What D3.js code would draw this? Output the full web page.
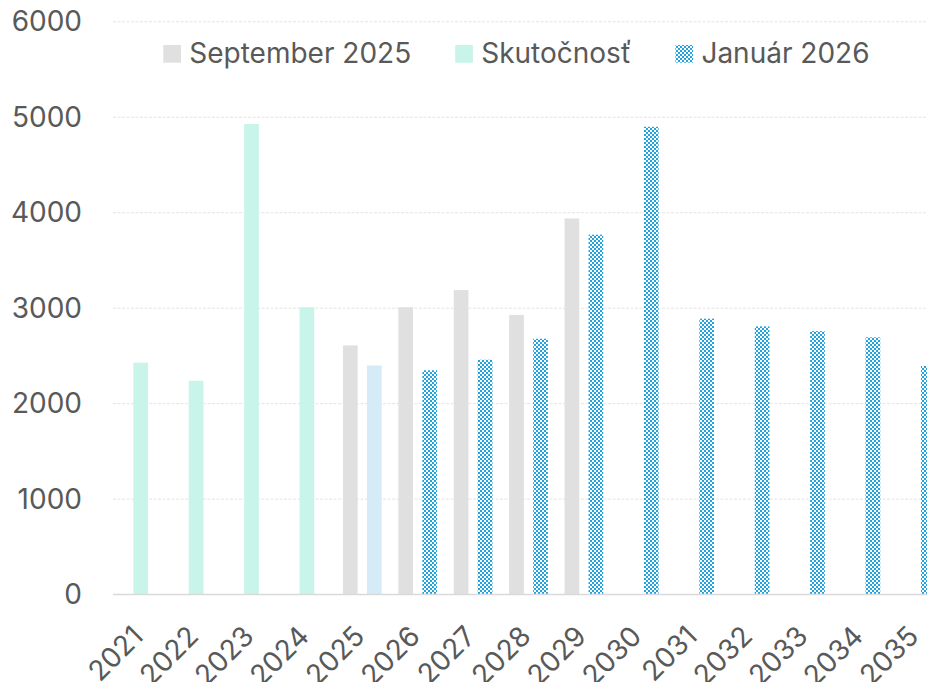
<!DOCTYPE html>
<html>
<head>
<meta charset="utf-8">
<script src="https://cdn.jsdelivr.net/npm/d3@7"></script>
<style>
  html, body { margin: 0; padding: 0; background: #ffffff; }
  svg { display: block; }
  text { font-family: Inter, "Open Sans", sans-serif; fill: #595959; }
</style>
</head>
<body>
<svg id="chart" width="927" height="682"></svg>
<script>
// Years on the category axis
const years = ["2021","2022","2023","2024","2025","2026","2027","2028","2029","2030","2031","2032","2033","2034","2035"];
// Series values (null = no bar)
const september2025 = [null, null, null, null, 2610, 3010, 3190, 2930, 3940, null, null, null, null, null, null];
const skutocnost    = [2430, 2240, 4930, 3010, null, null, null, null, null, null, null, null, null, null, null];
const januar2026    = [null, null, null, null, 2400, 2350, 2460, 2680, 3770, 4900, 2890, 2810, 2760, 2695, 2395];
// Year whose January value is shown as a plain light-blue bar
const januarSolidYears = ["2025"];
const yTicks = [0, 1000, 2000, 3000, 4000, 5000, 6000];
const legendLabels = ["September 2025", "Skutočnosť", "Január 2026"];

const svg = d3.select("#chart");
const plotLeft = 113, bandStep = 55.4;
const x = d3.scaleBand().domain(years).range([plotLeft, plotLeft + bandStep * years.length]).padding(0);
const y = d3.scaleLinear().domain([0, 6000]).range([594.6, 21.8]);
const barW = 14.7, seriesShift = 12;
const fontStack = "Inter, 'Open Sans', sans-serif";

// checkerboard fill for the January series
const defs = svg.append("defs");
const pat = defs.append("pattern").attr("id", "checker").attr("patternUnits", "userSpaceOnUse")
  .attr("width", 4).attr("height", 4);
pat.append("rect").attr("width", 4).attr("height", 4).attr("fill", "#22a2de");
pat.append("rect").attr("x", 0).attr("y", 0).attr("width", 2).attr("height", 2).attr("fill", "#ffffff");
pat.append("rect").attr("x", 2).attr("y", 2).attr("width", 2).attr("height", 2).attr("fill", "#ffffff");

// gridlines
svg.append("g").selectAll("line").data(yTicks.filter(d => d > 0)).join("line")
  .attr("x1", plotLeft).attr("x2", 927)
  .attr("y1", d => y(d)).attr("y2", d => y(d))
  .attr("stroke", "#e4e4e4").attr("stroke-width", 1).attr("stroke-dasharray", "3,1.5");

// y axis labels
const yAxis = d3.axisLeft(y).tickValues(yTicks).tickSize(0).tickPadding(0).tickFormat(d3.format("d"));
const yg = svg.append("g").attr("transform", "translate(82,0)").call(yAxis);
yg.select(".domain").remove();
yg.selectAll("text").attr("font-size", 28).attr("fill", "#595959").style("font-family", fontStack);

// bars
function drawSeries(values, offset, fillFn) {
  svg.append("g").selectAll("rect")
    .data(years.map((yr, i) => ({ yr, v: values[i] })).filter(d => d.v != null))
    .join("rect")
    .attr("x", d => x(d.yr) + x.bandwidth() / 2 + offset - barW / 2)
    .attr("width", barW)
    .attr("y", d => y(d.v))
    .attr("height", d => y(0) - y(d.v))
    .attr("fill", fillFn);
}
drawSeries(september2025, -seriesShift, () => "#e0e0e0");
drawSeries(skutocnost, 0, () => "#c8f4e9");
drawSeries(januar2026, seriesShift, d => januarSolidYears.includes(d.yr) ? "#d5ebf8" : "url(#checker)");

// category axis line
svg.append("line").attr("x1", plotLeft).attr("x2", 927).attr("y1", y(0)).attr("y2", y(0))
  .attr("stroke", "#d9d9d9").attr("stroke-width", 1.5);

// rotated year labels
const xAxis = d3.axisBottom(x).tickSize(0).tickPadding(0);
const xg = svg.append("g").call(xAxis);
xg.select(".domain").remove();
xg.selectAll(".tick").attr("transform", d => `translate(${x(d) + x.bandwidth() / 2 + 4},638)`);
xg.selectAll("text")
  .attr("font-size", 28).attr("fill", "#595959").style("font-family", fontStack)
  .attr("text-anchor", "end").attr("dy", 0).attr("y", 0)
  .attr("transform", "rotate(-45)");

// legend
const legendFills = ["#e0e0e0", "#c8f4e9", "url(#checker)"];
const lg = svg.append("g");
let lx = 163.3;
legendLabels.forEach((lab, i) => {
  lg.append("rect").attr("x", lx).attr("y", 45).attr("width", 17.7).attr("height", 17.7).attr("fill", legendFills[i]);
  const t = lg.append("text").attr("x", lx + 26).attr("y", 63.3).attr("font-size", 28).text(lab);
  lx = lx + 26 + t.node().getComputedTextLength() + 44;
});
</script>
</body>
</html>
